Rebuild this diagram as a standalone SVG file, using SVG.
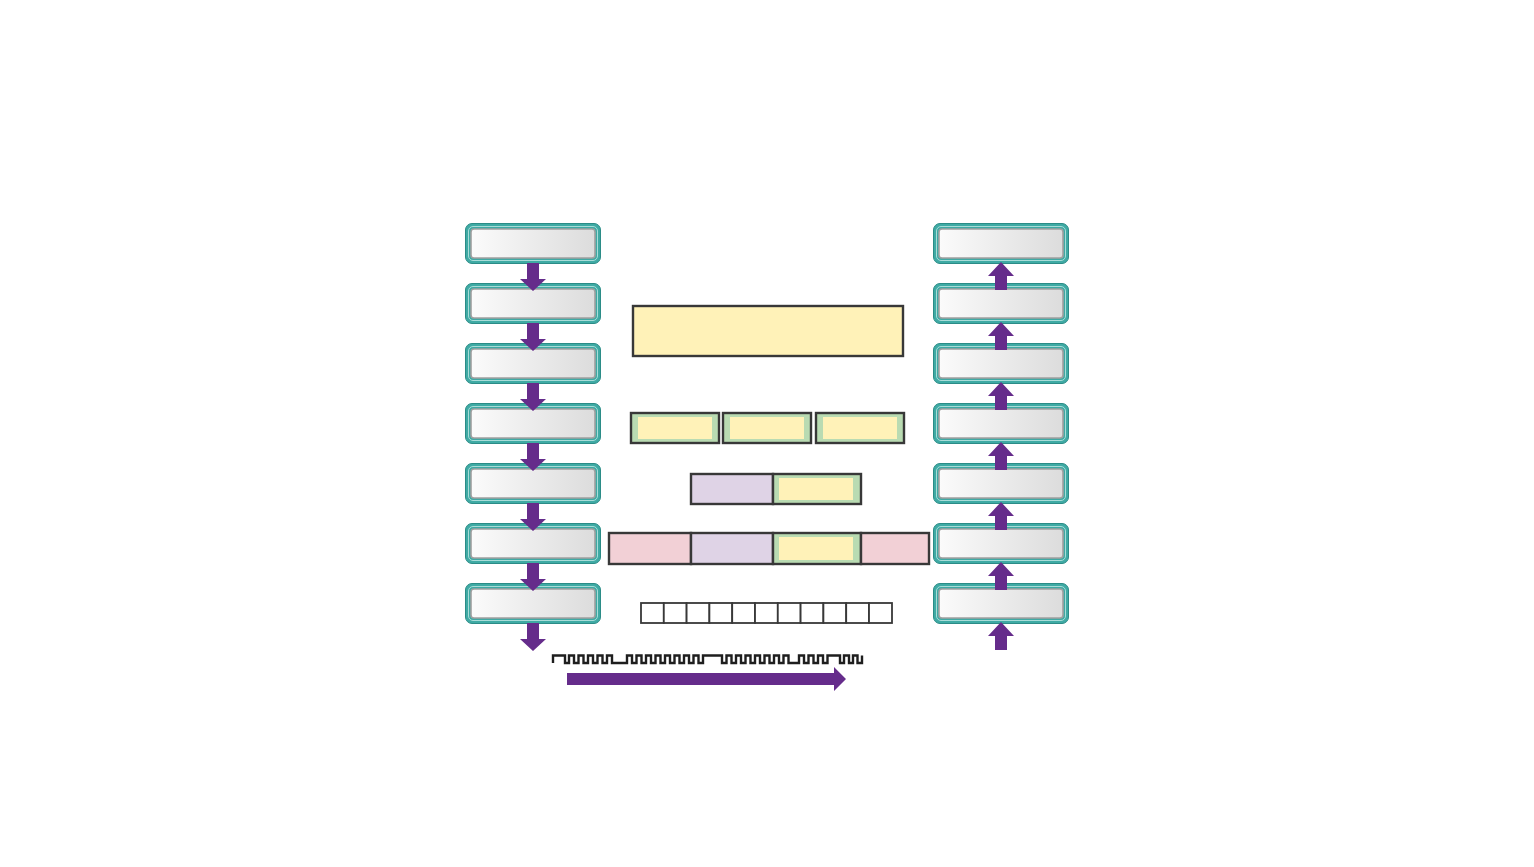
<svg xmlns="http://www.w3.org/2000/svg" width="1534" height="867" viewBox="0 0 1534 867">
<defs>
<linearGradient id="g" x1="0" y1="0" x2="1" y2="0">
<stop offset="0" stop-color="#fbfbfb"/>
<stop offset="1" stop-color="#dcdcdc"/>
</linearGradient>
<g id="box">
<rect x="-0.5" y="-0.5" width="135" height="40" rx="6.5" fill="#3faaa4" stroke="#2b8c87" stroke-width="1"/>
<rect x="2.5" y="2.5" width="129" height="34" rx="4.5" fill="none" stroke="#a8dcd8" stroke-width="1"/>
<rect x="5" y="5" width="124" height="29" rx="3" fill="url(#g)" stroke="#a0a0a0" stroke-width="1.6"/>
</g>
<path id="down" d="M-6,0 H6 V16 H13 L0,28 L-13,16 H-6 Z"/>
<path id="up" d="M-6,28 H6 V14 H13 L0,0 L-13,14 H-6 Z"/>
</defs>
<style>
.arrow{fill:#652c8b}
.blk{stroke:#383838;stroke-width:2.4}
.yel{fill:#fff2b8}
.grn{fill:#b9dbb2}
.pur{fill:#dfd3e6}
.pnk{fill:#f2d0d6}
.cell{fill:#ffffff;stroke:#383838;stroke-width:1.8}
</style>
<rect width="1534" height="867" fill="#ffffff"/>

<g id="left-col">
<g id="L1"><use href="#box" x="466" y="224"/></g>
<g id="L2"><use href="#box" x="466" y="284"/></g>
<g id="L3"><use href="#box" x="466" y="344"/></g>
<g id="L4"><use href="#box" x="466" y="404"/></g>
<g id="L5"><use href="#box" x="466" y="464"/></g>
<g id="L6"><use href="#box" x="466" y="524"/></g>
<g id="L7"><use href="#box" x="466" y="584"/></g>
</g>

<g id="right-col">
<g id="R1"><use href="#box" x="934" y="224"/></g>
<g id="R2"><use href="#box" x="934" y="284"/></g>
<g id="R3"><use href="#box" x="934" y="344"/></g>
<g id="R4"><use href="#box" x="934" y="404"/></g>
<g id="R5"><use href="#box" x="934" y="464"/></g>
<g id="R6"><use href="#box" x="934" y="524"/></g>
<g id="R7"><use href="#box" x="934" y="584"/></g>
</g>

<g id="connectors" class="arrow">
<use href="#down" x="533" y="263"/>
<use href="#down" x="533" y="323"/>
<use href="#down" x="533" y="383"/>
<use href="#down" x="533" y="443"/>
<use href="#down" x="533" y="503"/>
<use href="#down" x="533" y="563"/>
<use href="#down" x="533" y="623"/>
<use href="#up" x="1001" y="262"/>
<use href="#up" x="1001" y="322"/>
<use href="#up" x="1001" y="382"/>
<use href="#up" x="1001" y="442"/>
<use href="#up" x="1001" y="502"/>
<use href="#up" x="1001" y="562"/>
<use href="#up" x="1001" y="622"/>
<path d="M567,673 H834 V667 L846,679 L834,691 V685 H567 Z"/>
</g>

<g id="frame-top">
<rect x="633" y="306" width="270" height="50" class="yel blk"/>
</g>

<g id="row2">
<rect x="631" y="413" width="88" height="30" class="grn blk"/>
<rect x="638" y="417" width="74" height="22" class="yel"/>
<rect x="723" y="413" width="88" height="30" class="grn blk"/>
<rect x="730" y="417" width="74" height="22" class="yel"/>
<rect x="816" y="413" width="88" height="30" class="grn blk"/>
<rect x="823" y="417" width="74" height="22" class="yel"/>
</g>

<g id="row3">
<rect x="691" y="474" width="82" height="30" class="pur blk"/>
<rect x="773" y="474" width="88" height="30" class="grn blk"/>
<rect x="779" y="478" width="74" height="22" class="yel"/>
</g>

<g id="row4">
<rect x="609" y="533" width="82" height="31" class="pnk blk"/>
<rect x="691" y="533" width="82" height="31" class="pur blk"/>
<rect x="773" y="533" width="88" height="31" class="grn blk"/>
<rect x="779" y="537" width="74" height="23" class="yel"/>
<rect x="861" y="533" width="68" height="31" class="pnk blk"/>
</g>

<g id="cells">
<rect x="641" y="603" width="22.8" height="20" class="cell"/>
<rect x="663.8" y="603" width="22.8" height="20" class="cell"/>
<rect x="686.6" y="603" width="22.8" height="20" class="cell"/>
<rect x="709.4" y="603" width="22.8" height="20" class="cell"/>
<rect x="732.2" y="603" width="22.8" height="20" class="cell"/>
<rect x="755" y="603" width="22.8" height="20" class="cell"/>
<rect x="777.8" y="603" width="22.8" height="20" class="cell"/>
<rect x="800.6" y="603" width="22.8" height="20" class="cell"/>
<rect x="823.4" y="603" width="22.8" height="20" class="cell"/>
<rect x="846.2" y="603" width="22.8" height="20" class="cell"/>
<rect x="869" y="603" width="23" height="20" class="cell"/>
</g>

<g id="wave">
<path fill="none" stroke="#1e1e1e" stroke-width="2.4" stroke-linejoin="miter" d="M553,663 V655.5 H565 V663 H569 V655.5 H574 V663 H578.5 V655.5 H583.5 V663 H588 V655.5 H593 V663 H597.5 V655.5 H602.5 V663 H607 V655.5 H612 V663 H627 V655.5 H632 V663 H636.5 V655.5 H641.5 V663 H646 V655.5 H651 V663 H655.5 V655.5 H660.5 V663 H665 V655.5 H670 V663 H674.5 V655.5 H679.5 V663 H684 V655.5 H689 V663 H693.5 V655.5 H698.5 V663 H703 V655.5 H722 V663 H726.5 V655.5 H731.5 V663 H736 V655.5 H741 V663 H745.5 V655.5 H750.5 V663 H755 V655.5 H760 V663 H764.5 V655.5 H769.5 V663 H774 V655.5 H779 V663 H783.5 V655.5 H788.5 V663 H799 V655.5 H804 V663 H808.5 V655.5 H813.5 V663 H818 V655.5 H823 V663 H827.5 V655.5 H840 V663 H844 V655.5 H849 V663 H853 V655.5 H857.5 V663 H862 V655.5"/>
</g>
</svg>
